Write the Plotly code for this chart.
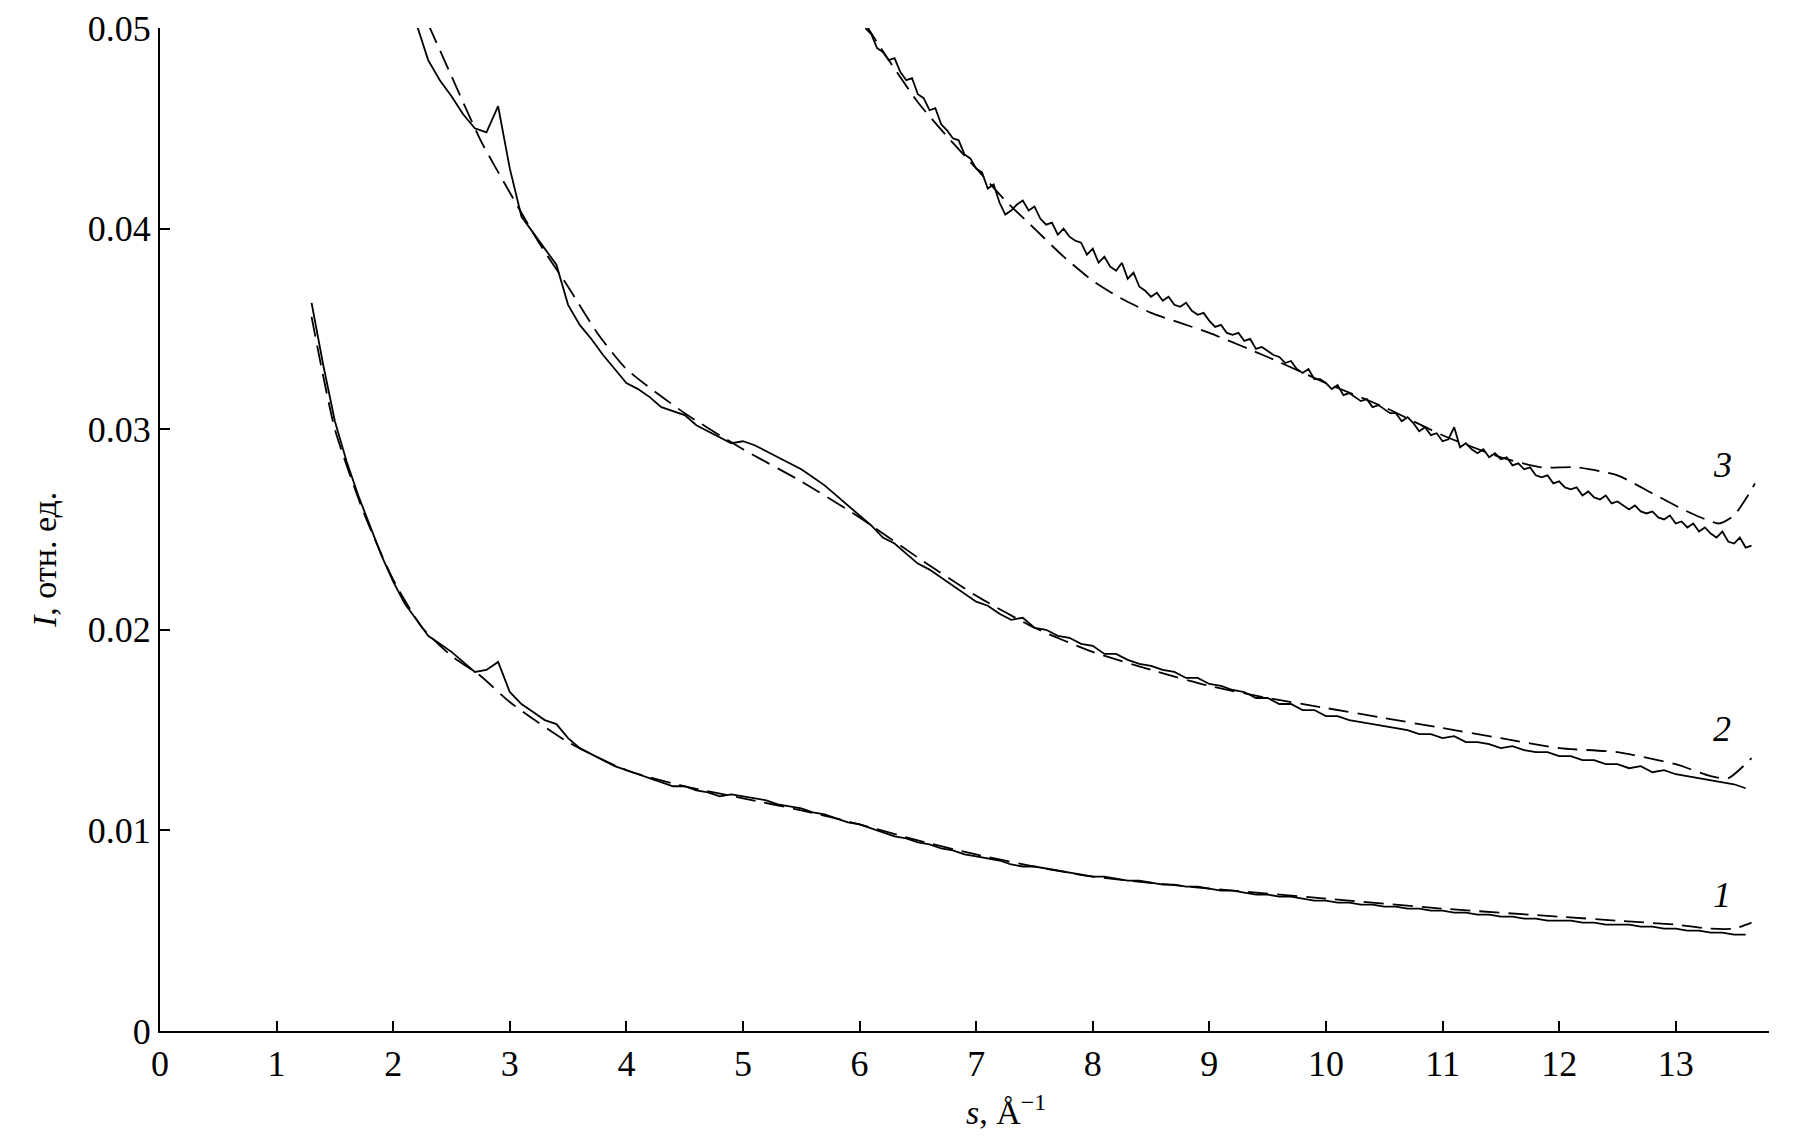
import plotly.graph_objects as go

# ---------------- data ----------------
# curve 1 (experiment), s = 1.30 ... 13.60 step 0.1
s1_start, s1_step = 1.30, 0.10
I1 = [0.0363, 0.0332, 0.0304, 0.0284, 0.0267, 0.0252, 0.0237, 0.0224, 0.0213, 0.0205,
      0.0197, 0.0193, 0.0189, 0.0184, 0.0179, 0.0180, 0.0184, 0.0169, 0.0163, 0.0159,
      0.0155, 0.0153, 0.0146, 0.0141, 0.0138, 0.0135, 0.0132, 0.0130, 0.0128, 0.0126,
      0.0124, 0.0122, 0.0122, 0.0120, 0.0119, 0.0117, 0.0118, 0.0117, 0.0116, 0.0115,
      0.0113, 0.0112, 0.0111, 0.0109, 0.0108, 0.0106, 0.0104, 0.0103, 0.0101, 0.0099,
      0.0097, 0.0096, 0.0094, 0.0093, 0.0091, 0.0090, 0.0088, 0.0087, 0.0086, 0.0085,
      0.0083, 0.0082, 0.0082, 0.0081, 0.0080, 0.0079, 0.0078, 0.0077, 0.0077, 0.0076,
      0.0075, 0.0075, 0.0074, 0.0073, 0.0073, 0.0072, 0.0072, 0.0071, 0.0070, 0.0070,
      0.0069, 0.0068, 0.0068, 0.0067, 0.0067, 0.0066, 0.0065, 0.0065, 0.0064, 0.0064,
      0.0063, 0.0063, 0.0062, 0.0062, 0.0061, 0.0061, 0.0060, 0.0060, 0.0059, 0.0059,
      0.0058, 0.0058, 0.0057, 0.0057, 0.0056, 0.0056, 0.0055, 0.0055, 0.0055, 0.0054,
      0.0054, 0.0053, 0.0053, 0.0053, 0.0052, 0.0052, 0.0051, 0.0051, 0.0050, 0.0050,
      0.0049, 0.0049, 0.0048, 0.0048]

# curve 2 (experiment), s = 2.20 ... 13.60 step 0.1
s2_start, s2_step = 2.20, 0.10
I2 = [0.0502, 0.0484, 0.0474, 0.0466, 0.0457, 0.0450, 0.0448, 0.0461, 0.0430, 0.0406,
      0.0398, 0.0390, 0.0382, 0.0362, 0.0352, 0.0345, 0.0337, 0.0330, 0.0323, 0.0320,
      0.0316, 0.0311, 0.0309, 0.0307, 0.0302, 0.0299, 0.0296, 0.0293, 0.0294, 0.0292,
      0.0289, 0.0286, 0.0283, 0.0280, 0.0276, 0.0272, 0.0267, 0.0262, 0.0257, 0.0252,
      0.0246, 0.0243, 0.0238, 0.0233, 0.0230, 0.0226, 0.0222, 0.0218,
      0.0214, 0.0212, 0.0208, 0.0205, 0.0206, 0.0201, 0.0200, 0.0197, 0.0196, 0.0193,
      0.0192, 0.0188, 0.0188, 0.0185, 0.0183, 0.0182, 0.0180, 0.0179, 0.0176, 0.0176,
      0.0173, 0.0172, 0.0170, 0.0169, 0.0166, 0.0166, 0.0163, 0.0163, 0.0160, 0.0160,
      0.0157, 0.0157, 0.0155, 0.0154, 0.0153, 0.0152, 0.0151, 0.0150, 0.0148, 0.0148,
      0.0146, 0.0147, 0.0144, 0.0144, 0.0143, 0.0141, 0.0142, 0.0140, 0.0139, 0.0139,
      0.0137, 0.0137, 0.0135, 0.0135, 0.0133, 0.0133, 0.0131, 0.0132, 0.0129, 0.0130,
      0.0128, 0.0127, 0.0126, 0.0125, 0.0124, 0.0123, 0.0121]

# curve 3 (experiment), s = 6.05 ... 13.65 step 0.05
s3_start, s3_step = 6.05, 0.05
I3 = [0.0500, 0.0497, 0.0490, 0.0488, 0.0484, 0.0485, 0.0478, 0.0474, 0.0475, 0.0467,
      0.0465, 0.0459, 0.0460, 0.0452, 0.0449, 0.0445, 0.0444, 0.0437, 0.0435, 0.0430,
      0.0428, 0.0420, 0.0422, 0.0413, 0.0407, 0.0409, 0.0412, 0.0414, 0.0409, 0.0411,
      0.0405, 0.0402, 0.0403, 0.0397, 0.0400, 0.0396, 0.0394, 0.0393, 0.0387, 0.0390,
      0.0383, 0.0386, 0.0381, 0.0379, 0.0383, 0.0375, 0.0378, 0.0371, 0.0369, 0.0366,
      0.0368, 0.0364, 0.0366, 0.0362, 0.0361, 0.0363, 0.0359, 0.0357, 0.0358,
      0.0354, 0.0351, 0.0352, 0.0348, 0.0347, 0.0348, 0.0344, 0.0345, 0.0340, 0.0341,
      0.0339, 0.0337, 0.0336, 0.0333, 0.0334, 0.0330, 0.0328, 0.0330, 0.0325, 0.0325,
      0.0323, 0.0320, 0.0322, 0.0317, 0.0318, 0.0316, 0.0314, 0.0315, 0.0311, 0.0312,
      0.0310, 0.0308, 0.0308, 0.0304, 0.0306, 0.0303, 0.0299, 0.0301, 0.0297, 0.0298,
      0.0294, 0.0295, 0.0301, 0.0291, 0.0293, 0.0290, 0.0288, 0.0290, 0.0286, 0.0288,
      0.0285, 0.0286, 0.0282, 0.0283, 0.0280, 0.0281, 0.0277, 0.0276, 0.0277, 0.0273,
      0.0274, 0.0271, 0.0270, 0.0271, 0.0267, 0.0269, 0.0266, 0.0265, 0.0267, 0.0263,
      0.0264, 0.0262, 0.0260, 0.0262, 0.0259, 0.0258, 0.0259, 0.0256, 0.0255, 0.0257,
      0.0253, 0.0254, 0.0251, 0.0253, 0.0249, 0.0251, 0.0248, 0.0246, 0.0249, 0.0244,
      0.0243, 0.0246, 0.0241, 0.0242]

# fitted (dashed) curves
s1_fit = [1.3, 1.5, 1.75, 2.0, 2.25, 2.5, 2.75, 3.0, 3.5, 4.0, 4.5, 5.0, 5.5, 6.0, 6.5,
          7.0, 7.5, 8.0, 9.0, 10.0, 11.0, 12.0, 12.5, 13.0, 13.3, 13.5, 13.65]
I1_fit = [0.0356, 0.0300, 0.0258, 0.0225, 0.0201, 0.0187, 0.0177, 0.0164, 0.0144, 0.0130,
          0.0122, 0.0116, 0.0110, 0.0103, 0.0095, 0.0088, 0.0082, 0.0077, 0.0071, 0.0066,
          0.0061, 0.0057, 0.0055, 0.0053, 0.0051, 0.0051, 0.0054]

s2_fit = [2.2, 2.5, 2.75, 3.0, 3.25, 3.5, 3.75, 4.0, 4.5, 5.0, 5.5, 6.0, 6.5, 7.0, 7.5,
          8.0, 8.5, 9.0, 9.5, 10.0, 10.5, 11.0, 11.5, 12.0, 12.5, 13.0, 13.3, 13.45, 13.65]
I2_fit = [0.0515, 0.0476, 0.0444, 0.0418, 0.0393, 0.0371, 0.0348, 0.0330, 0.0308, 0.0290,
          0.0274, 0.0256, 0.0236, 0.0217, 0.0201, 0.0189, 0.0180, 0.0172, 0.0166, 0.0161,
          0.0156, 0.0151, 0.0146, 0.0141, 0.0139, 0.0133, 0.0127, 0.0126, 0.0136]

s3_fit = [6.05, 6.25, 6.5, 6.75, 7.0, 7.25, 7.5, 7.75, 8.0, 8.25, 8.5, 8.75, 9.0, 9.5,
          10.0, 10.5, 11.0, 11.5, 11.85, 12.15, 12.5, 12.8, 13.1, 13.37, 13.5, 13.62, 13.68]
I3_fit = [0.0502, 0.0484, 0.0463, 0.0446, 0.0430, 0.0414, 0.0400, 0.0386, 0.0374, 0.0365,
          0.0358, 0.0353, 0.0348, 0.0336, 0.0323, 0.0311, 0.0297, 0.0286, 0.0281, 0.0281,
          0.0277, 0.0268, 0.0259, 0.0253, 0.0257, 0.0267, 0.0273]

curve_labels = ["1", "2", "3"]
label_pos_s = [13.4, 13.4, 13.4]
label_pos_I = [0.0068, 0.01505, 0.0282]

x_ticks = list(range(0, 14))
y_ticks = [0, 0.01, 0.02, 0.03, 0.04, 0.05]
y_ticktext = ["0", "0.01", "0.02", "0.03", "0.04", "0.05"]


def grid(start, step, n):
    return [round(start + step * i, 3) for i in range(n)]


FONT = "Liberation Serif, Times New Roman, serif"

fig = go.Figure()

for s_fit, I_fit in [(s1_fit, I1_fit), (s2_fit, I2_fit), (s3_fit, I3_fit)]:
    fig.add_trace(go.Scatter(x=s_fit, y=I_fit, mode="lines",
                             line=dict(color="black", width=1.8, dash="20px,9px",
                                       shape="spline", smoothing=0.6),
                             showlegend=False, hoverinfo="skip"))

for start, step, vals in [(s1_start, s1_step, I1), (s2_start, s2_step, I2), (s3_start, s3_step, I3)]:
    fig.add_trace(go.Scatter(x=grid(start, step, len(vals)), y=vals, mode="lines",
                             line=dict(color="black", width=1.8),
                             showlegend=False, hoverinfo="skip"))

for lab, xs, ys in zip(curve_labels, label_pos_s, label_pos_I):
    fig.add_annotation(x=xs, y=ys, xref="x", yref="y", text=f"<i>{lab}</i>",
                       showarrow=False, font=dict(family=FONT, size=36, color="black"))

# page body has an 8 px offset; figure placed so the plot area lands where the reference has it
OFF = 8
W, H = 1803 - OFF, 1147 - OFF
L, R, T, B = 160 - OFF, 34, 28 - OFF, 116
pw, ph = W - L - R, H - T - B
ax_bottom = 1031  # page px of I = 0

fig.add_annotation(xref="paper", yref="paper", x=(1006 - 160) / pw, y=-(1110 - ax_bottom) / ph,
                   text="<i>s</i>, Å<sup>−1</sup>", showarrow=False,
                   xanchor="center", yanchor="middle",
                   font=dict(family=FONT, size=34, color="black"))
fig.add_annotation(xref="paper", yref="paper", x=(44 - 160) / pw, y=(ax_bottom - 560) / ph,
                   text="<i>I</i>, отн. ед.", showarrow=False, textangle=-90,
                   xanchor="center", yanchor="middle",
                   font=dict(family=FONT, size=34, color="black"))

fig.update_layout(
    width=W, height=H,
    margin=dict(l=L, r=R, t=T, b=B),
    plot_bgcolor="white", paper_bgcolor="white",
    font=dict(family=FONT, size=36, color="black"),
    xaxis=dict(range=[0, 13.8], tickvals=x_ticks, ticktext=[str(v) for v in x_ticks],
               automargin=False,
               showgrid=False, zeroline=False, showline=True, linecolor="black", linewidth=2,
               ticks="inside", ticklen=10, tickwidth=2, tickcolor="black",
               tickfont=dict(family=FONT, size=36, color="black")),
    yaxis=dict(range=[0, 0.05], tickvals=y_ticks, ticktext=y_ticktext,
               automargin=False,
               showgrid=False, zeroline=False, showline=True, linecolor="black", linewidth=2,
               ticks="inside", ticklen=10, tickwidth=2, tickcolor="black",
               tickfont=dict(family=FONT, size=36, color="black")),
)

fig.write_html("out.html")
